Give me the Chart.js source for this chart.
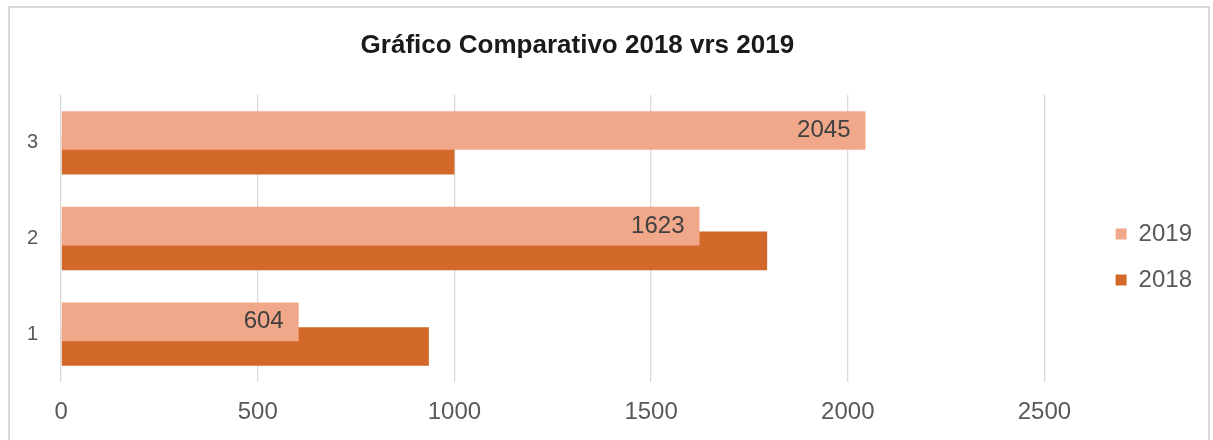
<!DOCTYPE html>
<html>
<head>
<meta charset="utf-8">
<script src="https://cdn.jsdelivr.net/npm/chart.js@4.4.1/dist/chart.umd.min.js"></script>
<style>
  html, body { margin: 0; padding: 0; background: #ffffff; }
  body { position: relative; width: 1213px; height: 440px; overflow: hidden; }
  #frame { position: absolute; left: 8px; top: 6px; width: 1202px; height: 460px; border: 2px solid #d9d9d9; box-sizing: border-box; }
  #chart { position: absolute; left: 0; top: 0; }
</style>
</head>
<body>
<div id="frame"></div>
<canvas id="chart" width="1213" height="440"></canvas>
<script>
// chart data
const categories = ['3', '2', '1'];
const values2019 = [2045, 1623, 604];
const values2018 = [1000, 1795, 935];
const seriesNames = ['2019', '2018'];
const xTicks = [0, 500, 1000, 1500, 2000, 2500];

const FONT = "'Liberation Sans', Arial, sans-serif";

// value labels at the end of the 2019 bars
const barLabels = {
    id: 'barLabels',
    afterDatasetsDraw(chart) {
        const ctx = chart.ctx;
        const meta = chart.getDatasetMeta(0);
        ctx.save();
        ctx.font = '24px ' + FONT;
        ctx.fillStyle = '#404040';
        ctx.textAlign = 'right';
        ctx.textBaseline = 'middle';
        meta.data.forEach((bar, i) => {
            ctx.fillText(String(values2019[i]), bar.x - 15, bar.y);
        });
        ctx.restore();
    }
};

const ctx = document.getElementById('chart').getContext('2d');
new Chart(ctx, {
    type: 'bar',
    data: {
        labels: categories,
        datasets: [{
            label: seriesNames[0],
            data: values2019,
            backgroundColor: '#F1A88A',
            categoryPercentage: 0.515,
            barPercentage: 1.57
        }, {
            label: seriesNames[1],
            data: values2018,
            backgroundColor: '#D2692A',
            categoryPercentage: 0.515,
            barPercentage: 1.57
        }]
    },
    options: {
        indexAxis: 'y',
        responsive: false,
        animation: false,
        layout: {
            padding: { left: 4, right: 11, top: 0, bottom: -2 }
        },
        plugins: {
            title: {
                display: true,
                text: 'Gráfico Comparativo 2018 vrs 2019',
                fullSize: false,
                color: '#1a1a1a',
                font: { family: FONT, size: 26, weight: 'bold' },
                padding: { top: 30.4, bottom: 33.4 }
            },
            legend: {
                position: 'right',
                align: 'center',
                title: {
                    display: true,
                    text: '',
                    padding: { top: 57.6, bottom: 0 }
                },
                labels: {
                    boxWidth: 11,
                    boxHeight: 11,
                    padding: 22,
                    color: '#595959',
                    font: { family: FONT, size: 24 }
                }
            },
            tooltip: { enabled: false }
        },
        scales: {
            x: {
                min: 0,
                max: 2625,
                afterBuildTicks: (axis) => {
                    axis.ticks = xTicks.map(v => ({ value: v }));
                },
                grid: { color: '#d9d9d9', lineWidth: 1.3, drawTicks: false },
                border: { display: false },
                ticks: {
                    color: '#595959',
                    padding: 15.6,
                    font: { family: FONT, size: 24 },
                    callback: (value) => String(value)
                }
            },
            y: {
                grid: { display: false, drawTicks: false },
                border: { display: false },
                ticks: {
                    color: '#595959',
                    padding: 23,
                    font: { family: FONT, size: 20 }
                }
            }
        }
    },
    plugins: [barLabels]
});
</script>
</body>
</html>
